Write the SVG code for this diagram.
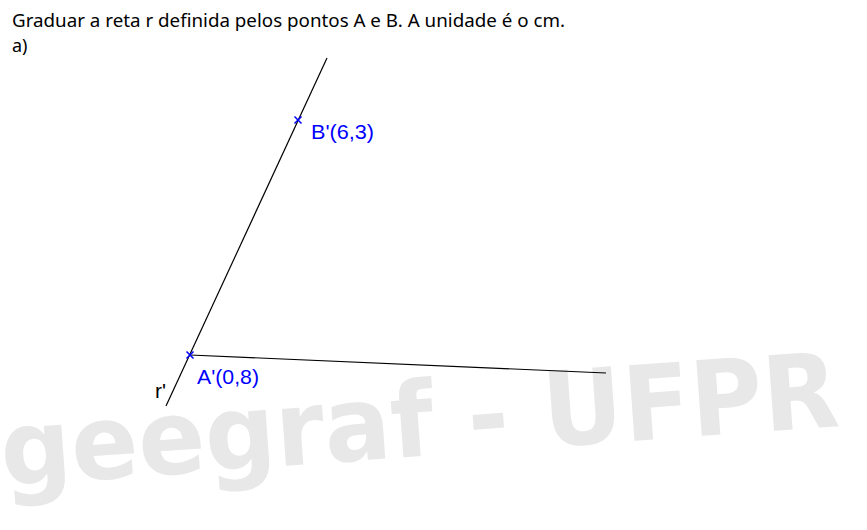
<svg xmlns="http://www.w3.org/2000/svg" width="867" height="530" viewBox="0 0 867 530">
<style>
.title{font-family:"Noto Sans","Open Sans",sans-serif;font-size:18px;fill:#000}
.lbl{font-family:"Liberation Sans",Arial,sans-serif;font-size:21px}
.blue{fill:#0000ff}
.line{stroke:#000;stroke-width:1.2;fill:none}
.mark{stroke:#0000ff;stroke-width:1.5;fill:none}
.wm{font-family:"DejaVu Sans",sans-serif;font-weight:bold;font-size:104px;fill:#e8e8e8}
</style>
<rect width="867" height="530" fill="#fff"/>
<g id="watermark">
<text class="wm" x="3" y="486" transform="rotate(-4.1 3 486)" textLength="840" lengthAdjust="spacingAndGlyphs">geegraf - UFPR</text>
</g>
<g id="title">
<text class="title" x="12" y="27" textLength="553" lengthAdjust="spacingAndGlyphs">Graduar a reta r definida pelos pontos A e B. A unidade é o cm.</text>
<text class="title" x="12" y="52">a)</text>
</g>
<g id="connectors">
<line id="line-r" class="line" x1="166" y1="406" x2="327" y2="58"/>
<line id="line-s" class="line" x1="190" y1="355" x2="606" y2="373"/>
</g>
<g id="pointA">
<path class="mark" d="M186.5 351.5 L193.5 358.5 M193.5 351.5 L186.5 358.5"/>
<text class="lbl blue" x="197" y="384" textLength="62" lengthAdjust="spacingAndGlyphs">A'(0,8)</text>
</g>
<g id="pointB">
<path class="mark" d="M294.5 116.5 L301.5 123.5 M301.5 116.5 L294.5 123.5"/>
<text class="lbl blue" x="311" y="139" textLength="63" lengthAdjust="spacingAndGlyphs">B'(6,3)</text>
</g>
<g id="label-r">
<text class="lbl" x="155" y="398">r'</text>
</g>
</svg>
